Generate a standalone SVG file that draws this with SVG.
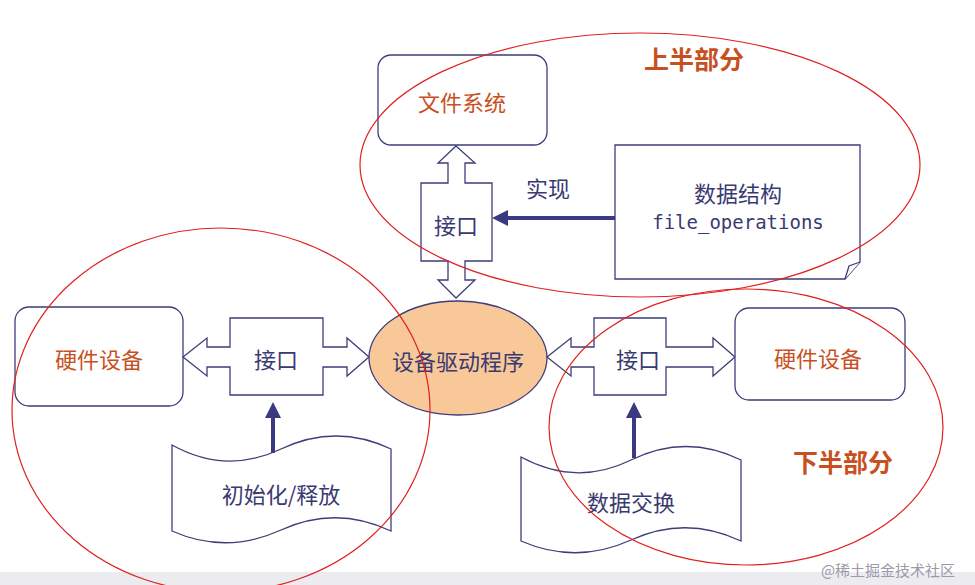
<svg xmlns="http://www.w3.org/2000/svg" width="975" height="585" viewBox="0 0 975 585">
<defs>
<style>
.s{fill:#fff;stroke:#3d3d7a;stroke-width:1.3}
.t{font-family:"Noto Sans CJK SC","Liberation Sans",sans-serif;font-size:22px;fill:#3a3a72;text-anchor:middle;dominant-baseline:central}
.o{fill:#c8501e}
.b{font-weight:bold;font-size:25px}
.red{fill:none;stroke:#e02020;stroke-width:1.2}
</style>
<marker id="ah" markerWidth="4" markerHeight="4" refX="3" refY="2" orient="auto" markerUnits="strokeWidth"><path d="M0,0 L4,2 L0,4 z" fill="#3a3a80"/></marker>
</defs>
<rect width="975" height="585" fill="#fff"/>
<rect x="0" y="572" width="975" height="13" fill="#ececf0"/>
<g id="fs"><rect class="s" x="378" y="55" width="169" height="90" rx="13"/><text class="t o" x="462" y="101">文件系统</text></g>
<g id="if-top"><path class="s" d="M456,146 L475,163 L465,163 L465,183 L492,183 L492,261 L465,261 L465,280 L475,280 L456,298 L438,280 L448,280 L448,261 L421,261 L421,183 L448,183 L448,163 L438,163 Z"/><text class="t" x="456" y="224">接口</text></g>
<g id="ds"><path class="s" d="M615,145 L860,145 L860,262 L845,279 L615,279 Z"/><path class="s" d="M845,279 L849,266 L860,262"/><text class="t" x="738" y="192">数据结构</text><text class="t" x="738" y="222" style="font-family:'DejaVu Sans Mono','Liberation Mono',monospace;font-size:19px">file_operations</text></g>
<g id="hw-l"><rect class="s" x="15" y="307" width="168" height="99" rx="14"/><text class="t o" x="99" y="358">硬件设备</text></g>
<g id="if-l"><path class="s" d="M183,357 L207,338 L207,347 L230,347 L230,318 L323,318 L323,347 L347,347 L347,338 L369,357 L347,376 L347,367 L323,367 L323,395 L230,395 L230,367 L207,367 L207,376 Z"/><text class="t" x="276" y="358">接口</text></g>
<g id="drv"><ellipse cx="458" cy="358" rx="89" ry="57" fill="#f9c898" stroke="#3d3d7a" stroke-width="1.3"/><text class="t" x="458" y="360">设备驱动程序</text></g>
<g id="if-r"><path class="s" d="M547,357 L571,338 L571,347 L594,347 L594,318 L666,318 L666,347 L713,347 L713,338 L735,357 L713,376 L713,367 L666,367 L666,395 L594,395 L594,367 L571,367 L571,376 Z"/><text class="t" x="638" y="358">接口</text></g>
<g id="hw-r"><rect class="s" x="735" y="308" width="170" height="92" rx="14"/><text class="t o" x="818" y="357">硬件设备</text></g>
<g id="init"><path class="s" d="M172,445 Q226,475 281,449 Q336,423 391,449 L391,531 Q336,505 281,530 Q226,555 172,531 Z"/><text class="t" x="281" y="493">初始化/释放</text></g>
<g id="xchg"><path class="s" d="M521,457 Q576,487 631,460 Q686,433 741,460 L741,541 Q686,515 631,540 Q576,565 521,541 Z"/><text class="t" x="631" y="501">数据交换</text></g>
<g id="connectors" stroke="#3a3a80" stroke-width="4" fill="none">
<line x1="615" y1="218" x2="496" y2="218" marker-end="url(#ah)"/>
<line x1="273" y1="453" x2="273" y2="406" marker-end="url(#ah)"/>
<line x1="634" y1="458" x2="634" y2="406" marker-end="url(#ah)"/>
</g>
<text class="t" x="548" y="187">实现</text>
<g id="regions">
<ellipse class="red" cx="640" cy="165" rx="280" ry="132"/>
<ellipse class="red" cx="221" cy="410" rx="209" ry="182"/>
<ellipse class="red" cx="746" cy="427" rx="197" ry="138"/>
</g>
<text class="t o b" x="694" y="58">上半部分</text>
<text class="t o b" x="843" y="461">下半部分</text>
<text class="t" x="888" y="569" style="font-size:15px;fill:#9a9aa8">@稀土掘金技术社区</text>
</svg>
